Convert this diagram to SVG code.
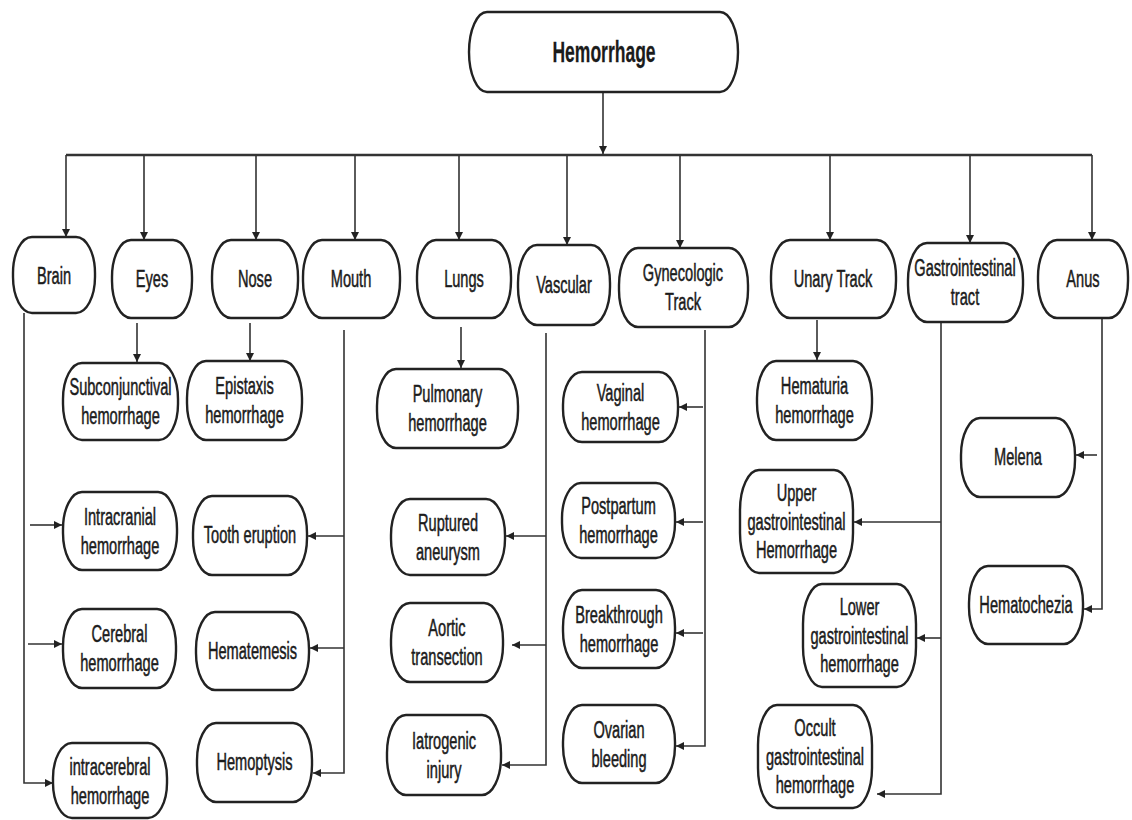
<svg xmlns="http://www.w3.org/2000/svg" width="1132" height="820" viewBox="0 0 1132 820">
  <style>
    .box { fill: #ffffff; stroke: #222222; stroke-width: 2.4; }
    .t { font-family: "Liberation Sans", Arial, sans-serif; font-size: 20px; text-anchor: middle; dominant-baseline: central; fill: #1b1b1b; stroke: #1b1b1b; stroke-width: 0.45; }
    .title { font-size: 24px; font-weight: bold; stroke-width: 0.2; }
    .c { fill: none; stroke: #333333; stroke-width: 1.6; }
    .bus { stroke-width: 2.4; }
    .a { marker-end: url(#arrow); }
  </style>
  <defs>
    <marker id="arrow" viewBox="0 0 10 10" refX="10" refY="5" markerWidth="9" markerHeight="8" markerUnits="userSpaceOnUse" orient="auto">
      <path d="M0,0 L10,5 L0,10 z" fill="#222222"/>
    </marker>
  </defs>
  <rect width="1132" height="820" fill="#ffffff"/>

  <!-- connectors -->
  <g id="connectors">
    <path class="c a" d="M603,92 V154"/>
    <path class="c bus" d="M66,155 H1092"/>
    <path class="c a" d="M66,155 V237"/>
    <path class="c a" d="M144,155 V240"/>
    <path class="c a" d="M256,155 V240"/>
    <path class="c a" d="M355,155 V240"/>
    <path class="c a" d="M459,155 V240"/>
    <path class="c a" d="M567,155 V245"/>
    <path class="c a" d="M680,155 V248"/>
    <path class="c a" d="M830,155 V240"/>
    <path class="c a" d="M970,155 V243"/>
    <path class="c a" d="M1092,155 V240"/>

    <!-- Brain -->
    <path class="c a" d="M24,313 V783 H53"/>
    <path class="c a" d="M30,525 H62"/>
    <path class="c a" d="M28,644 H62"/>
    <!-- Eyes, Nose, Lungs, Unary -->
    <path class="c a" d="M137,323 V362"/>
    <path class="c a" d="M250,323 V361"/>
    <path class="c a" d="M461,327 V368"/>
    <path class="c a" d="M817,320 V360"/>
    <!-- Mouth -->
    <path class="c a" d="M344,330 V773 H313"/>
    <path class="c a" d="M344,536 H308"/>
    <path class="c a" d="M344,648 H310"/>
    <!-- Vascular -->
    <path class="c a" d="M546,333 V765 H502"/>
    <path class="c a" d="M546,536 H506"/>
    <path class="c a" d="M546,645 H512"/>
    <!-- Gynecologic -->
    <path class="c a" d="M705,330 V746 H676"/>
    <path class="c a" d="M703,407 H679"/>
    <path class="c a" d="M703,522 H676"/>
    <path class="c a" d="M703,633 H676"/>
    <!-- Gastrointestinal -->
    <path class="c a" d="M941,322 V794 H877"/>
    <path class="c a" d="M941,522 H854"/>
    <path class="c a" d="M941,638 H917"/>
    <!-- Anus -->
    <path class="c a" d="M1102,318 V609 H1084"/>
    <path class="c a" d="M1097,455 H1076"/>
  </g>

  <!-- root -->
  <g id="node-hemorrhage">
    <rect class="box" x="469" y="12" width="269" height="80" rx="18" ry="40"/>
    <text class="t title" transform="translate(604 52) scale(.73 1.25)">Hemorrhage</text>
  </g>

  <!-- categories -->
  <g id="node-brain">
    <rect class="box" x="13" y="237" width="82" height="76" rx="19" ry="36"/>
    <text class="t" transform="translate(54 276) scale(.73 1.15)">Brain</text>
  </g>
  <g id="node-eyes">
    <rect class="box" x="112" y="240" width="80" height="78" rx="19" ry="37"/>
    <text class="t" transform="translate(152 279) scale(.73 1.15)">Eyes</text>
  </g>
  <g id="node-nose">
    <rect class="box" x="212" y="240" width="86" height="78" rx="19" ry="37"/>
    <text class="t" transform="translate(255 279) scale(.73 1.15)">Nose</text>
  </g>
  <g id="node-mouth">
    <rect class="box" x="303" y="240" width="97" height="78" rx="19" ry="37"/>
    <text class="t" transform="translate(351 279) scale(.73 1.15)">Mouth</text>
  </g>
  <g id="node-lungs">
    <rect class="box" x="417" y="240" width="94" height="78" rx="19" ry="37"/>
    <text class="t" transform="translate(464 279) scale(.73 1.15)">Lungs</text>
  </g>
  <g id="node-vascular">
    <rect class="box" x="518" y="245" width="92" height="80" rx="19" ry="38"/>
    <text class="t" transform="translate(564 285) scale(.73 1.15)">Vascular</text>
  </g>
  <g id="node-gynecologic">
    <rect class="box" x="619" y="248" width="129" height="79" rx="19" ry="37"/>
    <text class="t" transform="translate(683 287) scale(.73 1.15)"><tspan x="0" y="-12.6">Gynecologic</tspan><tspan x="0" y="12.6">Track</tspan></text>
  </g>
  <g id="node-unary">
    <rect class="box" x="771" y="240" width="125" height="78" rx="19" ry="37"/>
    <text class="t" transform="translate(833 279) scale(.73 1.15)">Unary Track</text>
  </g>
  <g id="node-gastro">
    <rect class="box" x="908" y="243" width="115" height="79" rx="19" ry="37"/>
    <text class="t" transform="translate(965 282) scale(.73 1.15)"><tspan x="0" y="-12.6">Gastrointestinal</tspan><tspan x="0" y="12.6">tract</tspan></text>
  </g>
  <g id="node-anus">
    <rect class="box" x="1038" y="240" width="90" height="78" rx="19" ry="37"/>
    <text class="t" transform="translate(1083 279) scale(.73 1.15)">Anus</text>
  </g>

  <!-- Brain children -->
  <g id="node-intracranial">
    <rect class="box" x="63" y="492" width="114" height="78" rx="19" ry="37"/>
    <text class="t" transform="translate(120 531) scale(.73 1.15)"><tspan x="0" y="-12.6">Intracranial</tspan><tspan x="0" y="12.6">hemorrhage</tspan></text>
  </g>
  <g id="node-cerebral">
    <rect class="box" x="63" y="609" width="113" height="79" rx="19" ry="37"/>
    <text class="t" transform="translate(119.5 648.5) scale(.73 1.15)"><tspan x="0" y="-12.6">Cerebral</tspan><tspan x="0" y="12.6">hemorrhage</tspan></text>
  </g>
  <g id="node-intracerebral">
    <rect class="box" x="53" y="743" width="114" height="75" rx="19" ry="35"/>
    <text class="t" transform="translate(110 781) scale(.73 1.15)"><tspan x="0" y="-12.6">intracerebral</tspan><tspan x="0" y="12.6">hemorrhage</tspan></text>
  </g>

  <!-- Eyes / Nose children -->
  <g id="node-subconjunctival">
    <rect class="box" x="63" y="363" width="115" height="77" rx="19" ry="36"/>
    <text class="t" transform="translate(120.5 401.5) scale(.73 1.15)"><tspan x="0" y="-12.6">Subconjunctival</tspan><tspan x="0" y="12.6">hemorrhage</tspan></text>
  </g>
  <g id="node-epistaxis">
    <rect class="box" x="187" y="361" width="115" height="79" rx="19" ry="37"/>
    <text class="t" transform="translate(244.5 400.5) scale(.73 1.15)"><tspan x="0" y="-12.6">Epistaxis</tspan><tspan x="0" y="12.6">hemorrhage</tspan></text>
  </g>

  <!-- Mouth children -->
  <g id="node-tooth">
    <rect class="box" x="193" y="496" width="114" height="79" rx="19" ry="37"/>
    <text class="t" transform="translate(250 535.5) scale(.73 1.15)">Tooth eruption</text>
  </g>
  <g id="node-hematemesis">
    <rect class="box" x="196" y="612" width="113" height="78" rx="19" ry="37"/>
    <text class="t" transform="translate(252.5 651) scale(.73 1.15)">Hematemesis</text>
  </g>
  <g id="node-hemoptysis">
    <rect class="box" x="197" y="723" width="115" height="79" rx="19" ry="37"/>
    <text class="t" transform="translate(254.5 762.5) scale(.73 1.15)">Hemoptysis</text>
  </g>

  <!-- Lungs child -->
  <g id="node-pulmonary">
    <rect class="box" x="377" y="369" width="141" height="79" rx="19" ry="37"/>
    <text class="t" transform="translate(447.5 408.5) scale(.73 1.15)"><tspan x="0" y="-12.6">Pulmonary</tspan><tspan x="0" y="12.6">hemorrhage</tspan></text>
  </g>

  <!-- Vascular children -->
  <g id="node-ruptured">
    <rect class="box" x="391" y="499" width="114" height="76" rx="19" ry="36"/>
    <text class="t" transform="translate(448 537) scale(.73 1.15)"><tspan x="0" y="-12.6">Ruptured</tspan><tspan x="0" y="12.6">aneurysm</tspan></text>
  </g>
  <g id="node-aortic">
    <rect class="box" x="391" y="603" width="112" height="79" rx="19" ry="37"/>
    <text class="t" transform="translate(447 642.5) scale(.73 1.15)"><tspan x="0" y="-12.6">Aortic</tspan><tspan x="0" y="12.6">transection</tspan></text>
  </g>
  <g id="node-iatrogenic">
    <rect class="box" x="387" y="715" width="114" height="80" rx="19" ry="38"/>
    <text class="t" transform="translate(444 755) scale(.73 1.15)"><tspan x="0" y="-12.6">Iatrogenic</tspan><tspan x="0" y="12.6">injury</tspan></text>
  </g>

  <!-- Gynecologic children -->
  <g id="node-vaginal">
    <rect class="box" x="563" y="372" width="115" height="70" rx="19" ry="33"/>
    <text class="t" transform="translate(620.5 407) scale(.73 1.15)"><tspan x="0" y="-12.6">Vaginal</tspan><tspan x="0" y="12.6">hemorrhage</tspan></text>
  </g>
  <g id="node-postpartum">
    <rect class="box" x="562" y="483" width="113" height="75" rx="19" ry="35"/>
    <text class="t" transform="translate(618.5 520.5) scale(.73 1.15)"><tspan x="0" y="-12.6">Postpartum</tspan><tspan x="0" y="12.6">hemorrhage</tspan></text>
  </g>
  <g id="node-breakthrough">
    <rect class="box" x="563" y="590" width="112" height="78" rx="19" ry="37"/>
    <text class="t" transform="translate(619 629) scale(.73 1.15)"><tspan x="0" y="-12.6">Breakthrough</tspan><tspan x="0" y="12.6">hemorrhage</tspan></text>
  </g>
  <g id="node-ovarian">
    <rect class="box" x="563" y="705" width="112" height="78" rx="19" ry="37"/>
    <text class="t" transform="translate(619 744) scale(.73 1.15)"><tspan x="0" y="-12.6">Ovarian</tspan><tspan x="0" y="12.6">bleeding</tspan></text>
  </g>

  <!-- Unary child -->
  <g id="node-hematuria">
    <rect class="box" x="757" y="361" width="115" height="79" rx="19" ry="37"/>
    <text class="t" transform="translate(814.5 400.5) scale(.73 1.15)"><tspan x="0" y="-12.6">Hematuria</tspan><tspan x="0" y="12.6">hemorrhage</tspan></text>
  </g>

  <!-- Gastrointestinal children -->
  <g id="node-upper-gi">
    <rect class="box" x="740" y="470" width="113" height="103" rx="19" ry="40"/>
    <text class="t" transform="translate(796.5 521.5) scale(.73 1.15)"><tspan x="0" y="-24.8">Upper</tspan><tspan x="0" y="0">gastrointestinal</tspan><tspan x="0" y="24.8">Hemorrhage</tspan></text>
  </g>
  <g id="node-lower-gi">
    <rect class="box" x="803" y="584" width="113" height="103" rx="19" ry="40"/>
    <text class="t" transform="translate(859.5 635.5) scale(.73 1.15)"><tspan x="0" y="-24.8">Lower</tspan><tspan x="0" y="0">gastrointestinal</tspan><tspan x="0" y="24.8">hemorrhage</tspan></text>
  </g>
  <g id="node-occult-gi">
    <rect class="box" x="758" y="705" width="114" height="103" rx="19" ry="40"/>
    <text class="t" transform="translate(815 756.5) scale(.73 1.15)"><tspan x="0" y="-24.8">Occult</tspan><tspan x="0" y="0">gastrointestinal</tspan><tspan x="0" y="24.8">hemorrhage</tspan></text>
  </g>

  <!-- Anus children -->
  <g id="node-melena">
    <rect class="box" x="961" y="418" width="114" height="79" rx="19" ry="37"/>
    <text class="t" transform="translate(1018 457.5) scale(.73 1.15)">Melena</text>
  </g>
  <g id="node-hematochezia">
    <rect class="box" x="969" y="566" width="114" height="78" rx="19" ry="37"/>
    <text class="t" transform="translate(1026 605) scale(.73 1.15)">Hematochezia</text>
  </g>
</svg>
